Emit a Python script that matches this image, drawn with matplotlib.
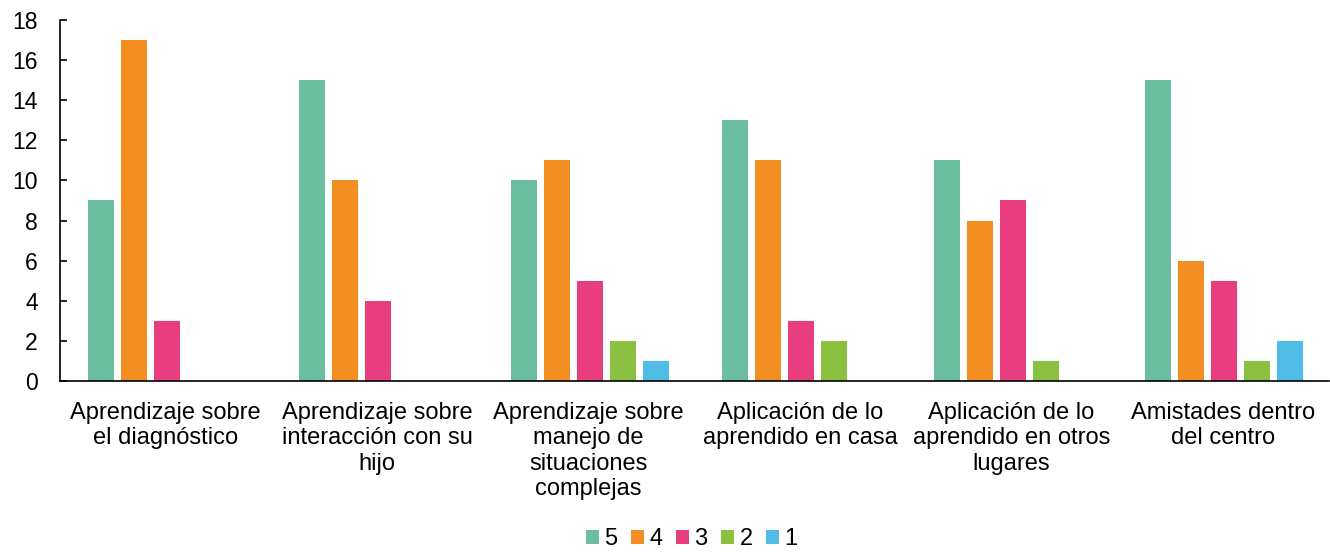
import matplotlib.pyplot as plt
import numpy as np

plt.rcParams['font.family'] = ['Liberation Sans', 'DejaVu Sans']

categorias = ['Aprendizaje sobre\nel diagnóstico',
              'Aprendizaje sobre\ninteracción con su\nhijo',
              'Aprendizaje sobre\nmanejo de\nsituaciones\ncomplejas',
              'Aplicación de lo\naprendido en casa',
              'Aplicación de lo\naprendido en otros\nlugares',
              'Amistades dentro\ndel centro']
series = ['5', '4', '3', '2', '1']
valores = {
    '5': [9, 15, 10, 13, 11, 15],
    '4': [17, 10, 11, 11, 8, 6],
    '3': [3, 4, 5, 3, 9, 5],
    '2': [0, 0, 2, 2, 1, 1],
    '1': [0, 0, 1, 0, 0, 2],
}
colores = ['#6BBFA0', '#F28E22', '#E83E80', '#8BC140', '#4FBDE6']

fig = plt.figure(figsize=(13.3, 5.53), dpi=100)
ax = fig.add_axes([0.045, 0.311, 0.954, 0.653])

x = np.arange(len(categorias))
paso = 0.156
ancho = 0.123
for i, (s, c) in enumerate(zip(series, colores)):
    ax.bar(x + (i - 2) * paso + 0.006, valores[s], width=ancho, color=c, label=s)

ax.set_xlim(-0.5, len(categorias) - 0.5)
ax.set_ylim(0, 18)
ax.set_yticks(range(0, 19, 2))
ax.set_xticks(x)
ax.set_xticklabels(categorias, fontsize=17, linespacing=1.2)
ax.tick_params(axis='x', length=0, pad=15)
ax.tick_params(axis='y', labelsize=16.5, length=5, width=1.2, direction='in', pad=16)
for lado in ['top', 'right']:
    ax.spines[lado].set_visible(False)
ax.spines['left'].set_linewidth(1.2)
ax.spines['bottom'].set_linewidth(1.2)

fig.legend(loc='lower center', bbox_to_anchor=(0.52, -0.033), ncol=5, frameon=False,
           fontsize=17, handlelength=0.55, handleheight=0.55, handletextpad=0.25,
           columnspacing=0.55)

fig.savefig('out.png', dpi=100)
